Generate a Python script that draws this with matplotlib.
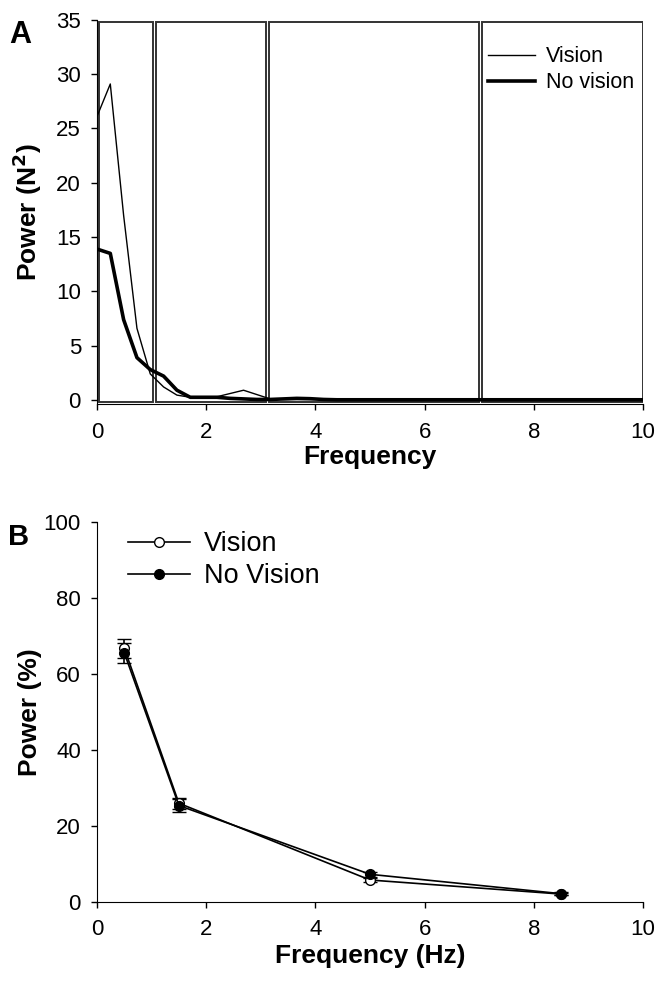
import numpy as np
import matplotlib.pyplot as plt
from matplotlib.patches import Rectangle

plt.rcParams['font.family'] = ['Liberation Sans', 'DejaVu Sans']

# Panel A: power spectrum
freq = np.arange(42) * 0.244
vision = [26.1, 29.1, 17.0, 6.6, 2.4, 1.2, 0.45, 0.25, 0.3, 0.3, 0.6, 0.9, 0.5, 0.1,
          0.05, 0.05, 0.05, 0.05, 0.05, 0.05, 0.05, 0.05, 0.05, 0.05, 0.05, 0.05, 0.05, 0.05,
          0.05, 0.05, 0.05, 0.05, 0.05, 0.05, 0.05, 0.05, 0.05, 0.05, 0.05, 0.05, 0.05, 0.05]
no_vision = [13.9, 13.5, 7.4, 3.9, 2.8, 2.2, 0.9, 0.25, 0.25, 0.25, 0.15, 0.1, 0.05, 0.05,
             0.1, 0.15, 0.12, 0.05, 0.02, 0.02, 0.02, 0.02, 0.02, 0.02, 0.02, 0.02, 0.02, 0.02,
             0.02, 0.02, 0.02, 0.02, 0.02, 0.02, 0.02, 0.02, 0.02, 0.02, 0.02, 0.02, 0.02, 0.02]
bands = [(0.04, 1.02), (1.08, 3.10), (3.15, 7.0), (7.05, 10.0)]

# Panel B: relative power per band
band_hz = [0.5, 1.5, 5.0, 8.5]
pct_vision = [66.7, 25.9, 5.7, 2.0]
err_vision = [2.5, 1.5, 0.5, 0.3]
pct_novision = [65.5, 25.3, 7.2, 2.1]
err_novision = [2.7, 1.6, 0.6, 0.4]

fig = plt.figure(figsize=(6.66, 9.85), dpi=100)

ax1 = fig.add_axes([0.1456, 0.5895, 0.82, 0.3903])
for lo, hi in bands:
    ax1.add_patch(Rectangle((lo, -0.15), hi - lo, 34.95, fill=False,
                            edgecolor='#333333', lw=1.4))
ax1.plot(freq, vision, color='black', lw=1.0, label='Vision')
ax1.plot(freq, no_vision, color='black', lw=2.6, label='No vision')
ax1.set_xlim(0, 10)
ax1.set_ylim(-0.4, 35)
ax1.set_xticks(range(0, 11, 2))
ax1.set_yticks(range(0, 36, 5))
ax1.spines['top'].set_visible(False)
ax1.spines['right'].set_visible(False)
ax1.tick_params(labelsize=16, length=4.5, width=1)
ax1.tick_params(axis='x', pad=8)
ax1.tick_params(axis='y', pad=7)
ax1.set_xlabel('Frequency', fontsize=19, fontweight='bold', labelpad=2)
ax1.set_ylabel('Power (N$^\\mathbf{2}$)', fontsize=19, fontweight='bold')
ax1.yaxis.set_label_coords(-0.097, 0.5)
ax1.legend(loc='upper left', bbox_to_anchor=(0.716, 0.932), frameon=False,
           fontsize=15.5, handlelength=2.2, handletextpad=0.5, borderpad=0,
           borderaxespad=0, labelspacing=0.25)
fig.text(0.014, 0.956, 'A', fontsize=22, fontweight='bold')

ax2 = fig.add_axes([0.1456, 0.0846, 0.82, 0.3858])
ax2.errorbar(band_hz, pct_vision, yerr=err_vision, fmt='none', ecolor='black',
             elinewidth=1.2, capsize=5)
ax2.errorbar(band_hz, pct_novision, yerr=err_novision, fmt='none', ecolor='black',
             elinewidth=1.2, capsize=5)
ax2.plot(band_hz, pct_vision, color='black', lw=1.2, marker='o', ms=7,
         mfc='white', mec='black', label='Vision')
ax2.plot(band_hz, pct_novision, color='black', lw=1.2, marker='o', ms=7,
         mfc='black', mec='black', label='No Vision')
ax2.set_xlim(0, 10)
ax2.set_ylim(0, 100)
ax2.set_xticks(range(0, 11, 2))
ax2.set_yticks(range(0, 101, 20))
ax2.spines['top'].set_visible(False)
ax2.spines['right'].set_visible(False)
ax2.tick_params(labelsize=16, length=4.5, width=1)
ax2.tick_params(axis='x', pad=8)
ax2.tick_params(axis='y', pad=7)
ax2.set_xlabel('Frequency (Hz)', fontsize=19, fontweight='bold', labelpad=3)
ax2.set_ylabel('Power (%)', fontsize=19, fontweight='bold')
ax2.yaxis.set_label_coords(-0.1, 0.5)
ax2.legend(loc='upper left', bbox_to_anchor=(0.057, 0.975), frameon=False,
           fontsize=19.5, handlelength=2.3, handletextpad=0.5, borderpad=0,
           borderaxespad=0, labelspacing=0.22)
fig.text(0.012, 0.447, 'B', fontsize=21, fontweight='bold')

fig.savefig('out.png', dpi=100)
